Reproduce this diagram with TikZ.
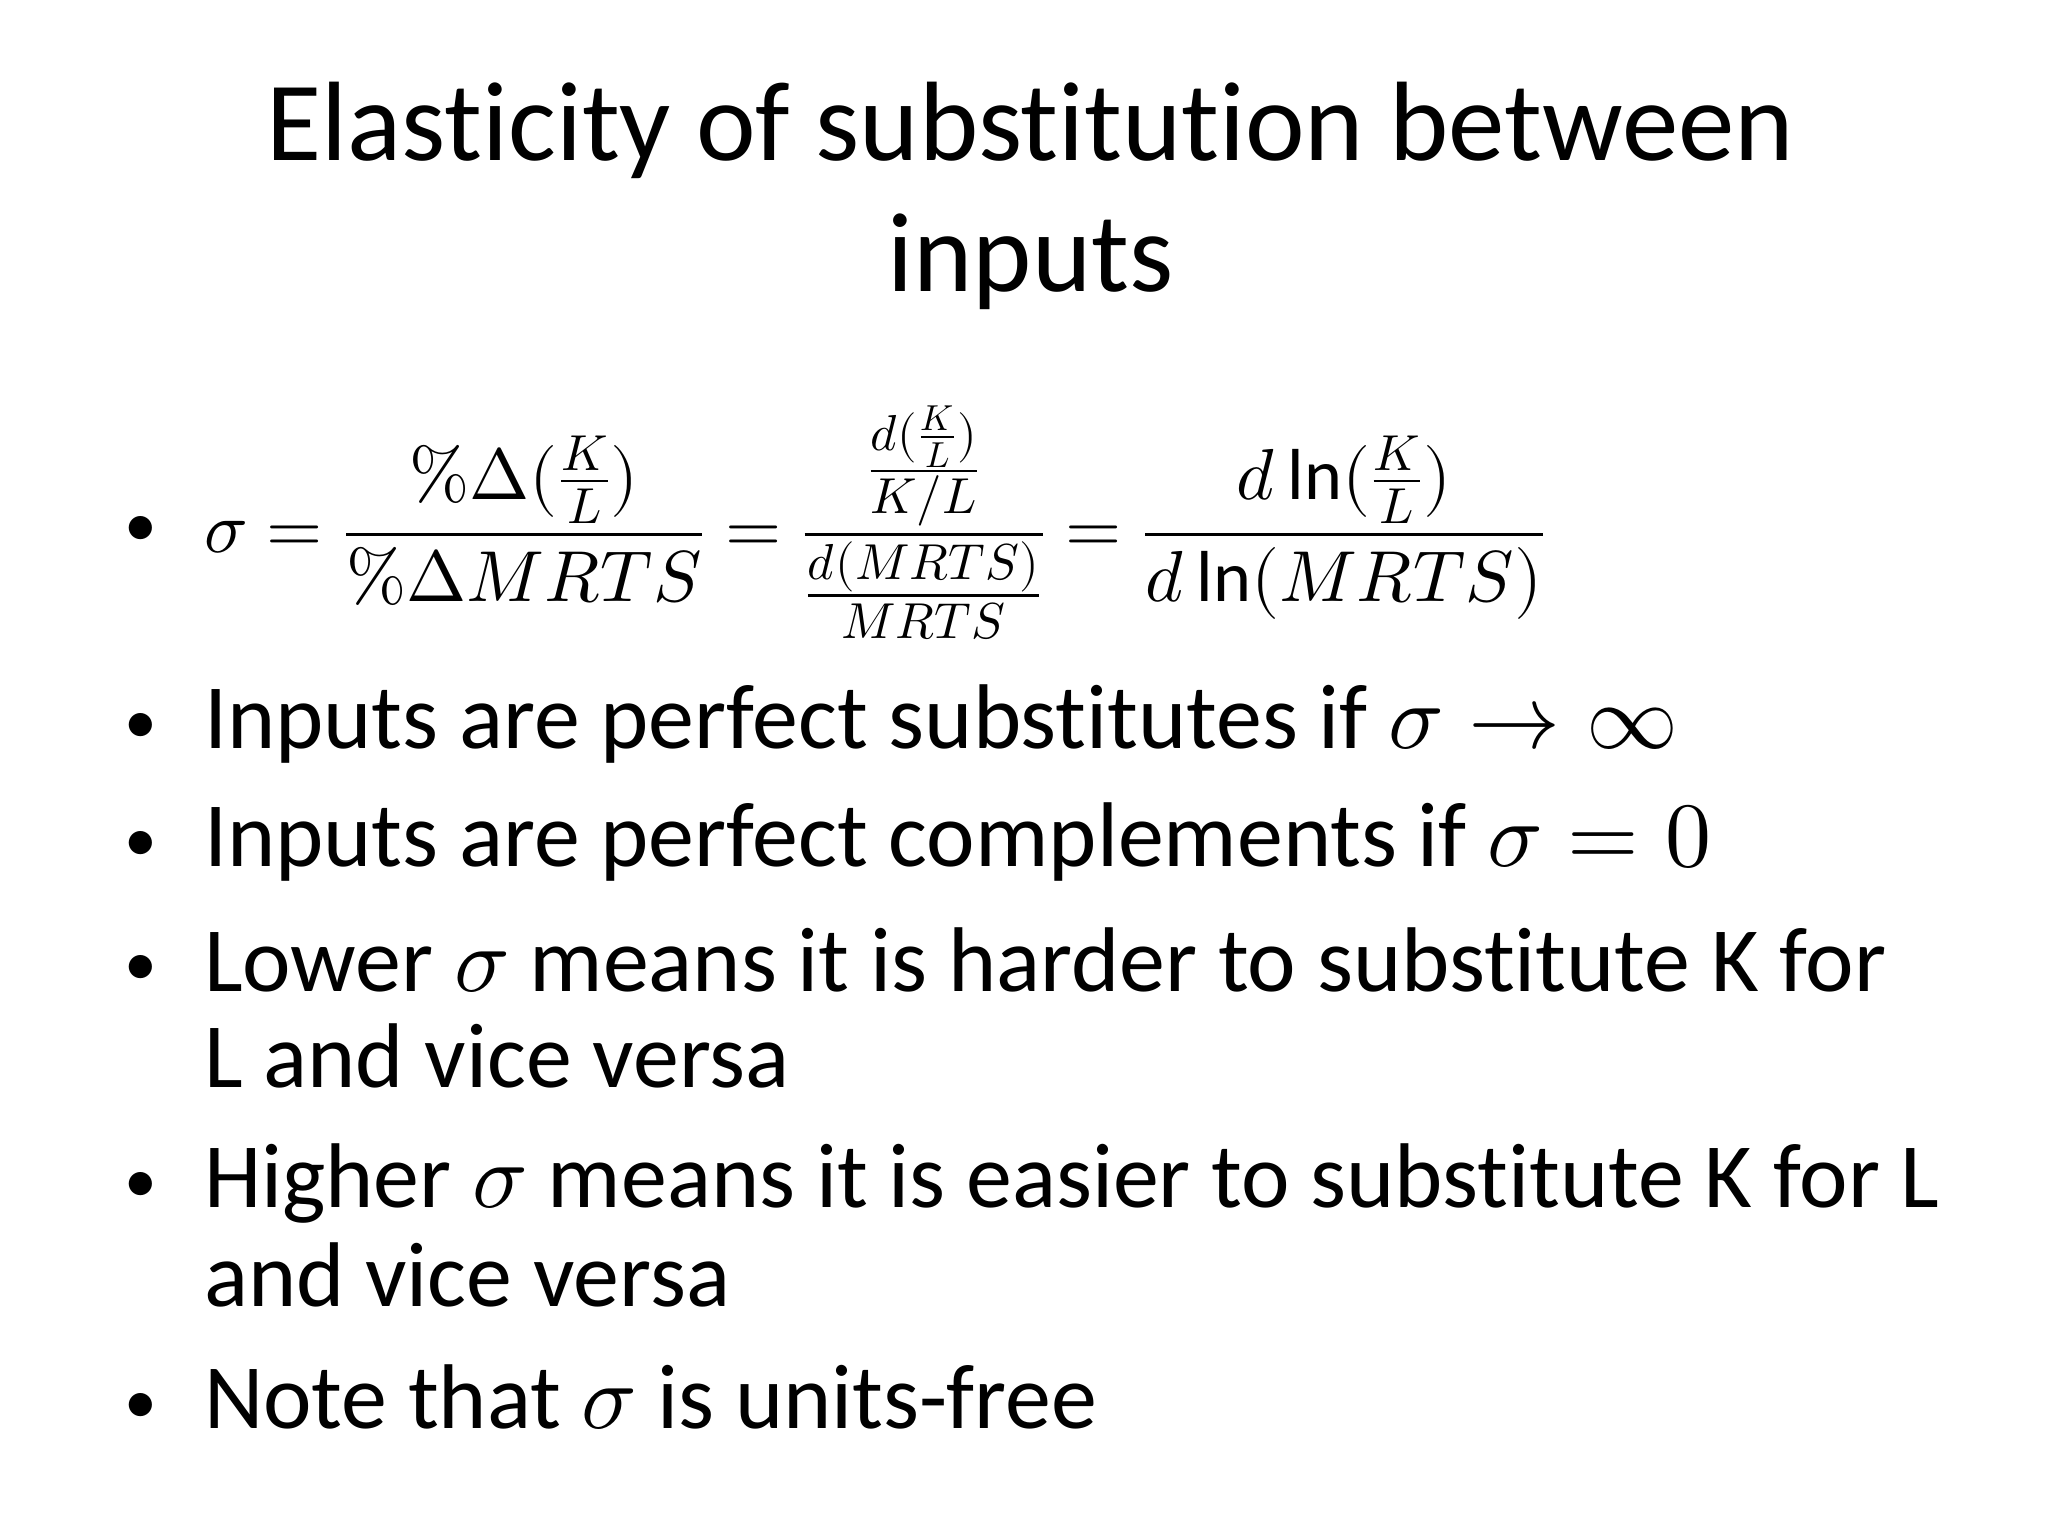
\documentclass[tikz,border=0pt]{standalone}
\usepackage{amsmath}
\usepackage{unicode-math}
\setmainfont{Carlito}[Ligatures=NoCommon]
\setmathfont{Latin Modern Math}
\begin{document}
\begin{tikzpicture}[x=0.5pt,y=-0.5pt,inner sep=0pt,
  title/.style={anchor=base,font=\fontsize{43}{52}\selectfont},
  item/.style={anchor=base west,font=\fontsize{35}{42}\selectfont},
  bul/.style={anchor=base,font=\fontsize{25}{30}\selectfont}]
\useasboundingbox (0,0) rectangle (1560,1170);
\node[title] (t1) at (785,122) {Elasticity of substitution between};
\node[title] (t2) at (785,222) {inputs};
\node[bul] (b0) at (107,416) {•};
\node[anchor=west,font=\fontsize{27.5}{33}\selectfont] (f) at (155,398) {$\displaystyle \sigma=\frac{\%\Delta(\frac{K}{L})}{\%\Delta MRTS}=\frac{\;\frac{d(\frac{K}{L})}{K/L}\;}{\frac{d(MRTS)}{MRTS}}=\frac{d\,\mathrm{ln}(\frac{K}{L})}{d\,\mathrm{ln}(MRTS)}$};
\node[bul] (b1) at (107,566) {•};
\node[item] (i1) at (155,570) {Inputs are perfect substitutes if $\sigma\rightarrow\infty$};
\node[bul] (b2) at (107,656) {•};
\node[item] (i2) at (155,660) {Inputs are perfect complements if $\sigma=0$};
\node[bul] (b3) at (107,751) {•};
\node[item] (i3) at (155,755) {Lower $\sigma$ means it is harder to substitute K for};
\node[item] (i3b) at (155,828) {L and vice versa};
\node[bul] (b4) at (107,916) {•};
\node[item] (i4) at (155,920) {Higher $\sigma$ means it is easier to substitute K for L};
\node[item] (i4b) at (155,995) {and vice versa};
\node[bul] (b5) at (107,1084) {•};
\node[item] (i5) at (155,1088) {Note that $\sigma$ is units-free};
\end{tikzpicture}
\end{document}
